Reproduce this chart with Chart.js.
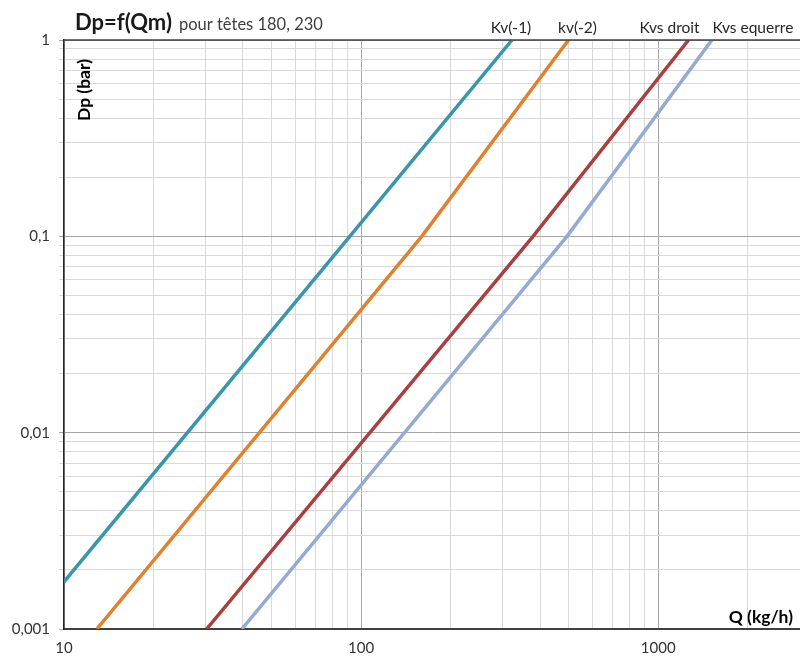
<!DOCTYPE html>
<html>
<head>
<meta charset="utf-8">
<script src="https://cdn.jsdelivr.net/npm/chart.js@4.4.1/dist/chart.umd.min.js"></script>
<style>
  html, body { margin: 0; padding: 0; background: #fff; }
  #wrap { width: 800px; height: 657px; position: relative; }
</style>
</head>
<body>
<div id="wrap"><canvas id="dpChart"></canvas></div>
<script>
// series: Q in kg/h, Dp in bar
const seriesNames = ['Kv(-1)', 'kv(-2)', 'Kvs droit', 'Kvs equerre'];
const qKv1 = [10, 91.6, 322];
const dpKv1 = [0.00174, 0.1, 1];
const qKv2 = [12.9, 160, 499];
const dpKv2 = [0.001, 0.1, 1];
const qKvsDroit = [30.2, 379, 1265];
const dpKvsDroit = [0.001, 0.1, 1];
const qKvsEquerre = [39.7, 493, 1516];
const dpKvsEquerre = [0.001, 0.1, 1];

const xTickValues = [10, 100, 1000];
const xTickLabels = ['10', '100', '1000'];
const yTickValues = [0.001, 0.01, 0.1, 1];
const yTickLabels = ['0,001', '0,01', '0,1', '1'];

const colors = ['#3a97ab', '#e0812f', '#a9403f', '#93abd2'];
const labelShift = [-1, 9, -19, 41];

const FONT = 'Lato';

function pts(qs, dps) {
  return qs.map((q, i) => ({ x: q, y: dps[i] }));
}

function logTicks(min, max) {
  const out = [];
  for (let e = Math.floor(Math.log10(min)); e <= Math.ceil(Math.log10(max)); e++) {
    for (let m = 1; m <= 9; m++) {
      const v = parseFloat((m * Math.pow(10, e)).toPrecision(6));
      if (v >= min * 0.999 && v <= max * 1.001) out.push({ value: v, major: m === 1 });
    }
  }
  return out;
}

function labelFor(values, labels, v) {
  const i = values.findIndex(t => Math.abs(t - v) / t < 1e-6);
  return i < 0 ? '' : labels[i];
}

const gridColor = (ctx) => (ctx.tick && ctx.tick.major) ? '#a6a6a6' : '#d9d9d9';

const decorations = {
  id: 'decorations',
  afterDraw(chart) {
    const c = chart.ctx;
    const area = chart.chartArea;
    const xs = chart.scales.x;
    c.save();
    // top border
    c.strokeStyle = '#404040';
    c.lineWidth = 1.5;
    c.beginPath();
    c.moveTo(area.left, area.top);
    c.lineTo(area.right, area.top);
    c.stroke();

    // title
    c.fillStyle = '#1a1a1a';
    c.textBaseline = 'alphabetic';
    c.textAlign = 'left';
    c.font = 'bold 22px ' + FONT;
    c.fillText('Dp=f(Qm)', 75, 30);
    const w = c.measureText('Dp=f(Qm)').width;
    c.fillStyle = '#404040';
    c.font = '16.5px ' + FONT;
    c.fillText('pour têtes 180, 230', 75 + w + 7, 30);

    // series names above the line ends
    c.textAlign = 'center';
    c.fillStyle = '#262626';
    c.font = '15.5px ' + FONT;
    chart.data.datasets.forEach((ds, i) => {
      const last = ds.data[ds.data.length - 1];
      c.fillText(ds.label, xs.getPixelForValue(last.x) + labelShift[i], 33);
    });

    // axis titles inside the plot
    c.fillStyle = '#000';
    c.font = 'bold 17.5px ' + FONT;
    c.textAlign = 'right';
    c.fillText('Q (kg/h)', 793, 623);
    c.translate(90, 90);
    c.rotate(-Math.PI / 2);
    c.textAlign = 'center';
    c.fillText('Dp (bar)', 0, 0);
    c.restore();
  }
};

const datasets = [
  pts(qKv1, dpKv1),
  pts(qKv2, dpKv2),
  pts(qKvsDroit, dpKvsDroit),
  pts(qKvsEquerre, dpKvsEquerre)
].map((d, i) => ({
  label: seriesNames[i],
  data: d,
  borderColor: colors[i],
  backgroundColor: colors[i],
  borderWidth: 3.5,
  pointRadius: 0,
  showLine: true,
  clip: 0
}));

new Chart(document.getElementById('dpChart').getContext('2d'), {
  type: 'scatter',
  data: { datasets },
  options: {
    responsive: true,
    maintainAspectRatio: false,
    animation: false,
    layout: { padding: { top: 40, right: 0, left: 0, bottom: 0 } },
    plugins: {
      legend: { display: false },
      tooltip: { enabled: false }
    },
    scales: {
      x: {
        type: 'logarithmic',
        min: 10,
        max: 3000,
        afterBuildTicks: (s) => { s.ticks = logTicks(10, 3000); },
        afterFit: (s) => {
          s.height = 28;
          s.paddingLeft = 0;
          s.paddingRight = 0;
        },
        grid: { color: gridColor, lineWidth: 1, drawTicks: false },
        border: { color: '#404040', width: 2 },
        ticks: {
          autoSkip: false,
          maxRotation: 0,
          padding: 10,
          color: '#333',
          font: { family: FONT, size: 15 },
          callback: (v) => labelFor(xTickValues, xTickLabels, v)
        }
      },
      y: {
        type: 'logarithmic',
        min: 0.001,
        max: 1,
        afterBuildTicks: (s) => { s.ticks = logTicks(0.001, 1); },
        afterFit: (s) => {
          s.width = 64;
          s.paddingTop = 0;
          s.paddingBottom = 0;
        },
        grid: { color: gridColor, lineWidth: 1, drawTicks: true, tickLength: 5 },
        border: { color: '#262626', width: 1.5 },
        ticks: {
          autoSkip: false,
          padding: 9,
          color: '#333',
          font: { family: FONT, size: 15 },
          callback: (v) => labelFor(yTickValues, yTickLabels, v)
        }
      }
    }
  },
  plugins: [decorations]
});
</script>
</body>
</html>
